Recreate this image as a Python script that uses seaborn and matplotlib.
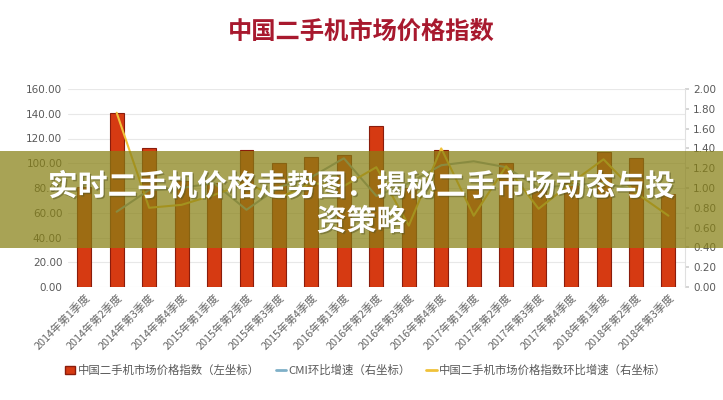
import numpy as np
import pandas as pd
import matplotlib
matplotlib.use("Agg")
import matplotlib.pyplot as plt
import matplotlib.patheffects as pe
from matplotlib.patches import Patch, Rectangle
from matplotlib.lines import Line2D
import seaborn as sns

categories = ["2014年第1季度", "2014年第2季度", "2014年第3季度", "2014年第4季度",
              "2015年第1季度", "2015年第2季度", "2015年第3季度", "2015年第4季度",
              "2016年第1季度", "2016年第2季度", "2016年第3季度", "2016年第4季度",
              "2017年第1季度", "2017年第2季度", "2017年第3季度", "2017年第4季度",
              "2018年第1季度", "2018年第2季度", "2018年第3季度"]
price_index = [81, 141, 112, 86, 84, 111, 100, 105, 107, 130, 80, 111, 80, 100, 80, 84, 109, 104, 75]
cmi_growth = [np.nan, 0.76, 0.98, 1.00, 1.05, 0.78, 1.01, 1.11, 1.30, 0.92, 1.05, 1.23, 1.27, 1.21, 1.00, 1.03, 1.05, 0.98, np.nan]
price_growth = [np.nan, 1.76, 0.80, 0.83, 0.93, 1.05, 0.90, 1.05, 1.02, 1.21, 0.62, 1.40, 0.72, 1.22, 0.79, 1.05, 1.29, 0.95, 0.72]
left_ticks = [0, 20, 40, 60, 80, 100, 120, 140, 160]
right_ticks = [0.0, 0.2, 0.4, 0.6, 0.8, 1.0, 1.2, 1.4, 1.6, 1.8, 2.0]

title = "中国二手机市场价格指数"
legend_labels = ["中国二手机市场价格指数（左坐标）", "CMI环比增速（右坐标）", "中国二手机市场价格指数环比增速（右坐标）"]
banner_text = "实时二手机价格走势图：揭秘二手市场动态与投\n资策略"

sns.set_theme(style="white")
plt.rcParams['font.family'] = ['Noto Sans CJK SC', 'DejaVu Sans']
plt.rcParams['axes.unicode_minus'] = False

BAR = "#d63a12"
BAR_EDGE = "#8a1c0c"
GRAY = "#8faab4"
YELLOW = "#f0c23a"
TXT = "#595959"

df = pd.DataFrame({"cat": categories, "idx": price_index,
                   "cmi": cmi_growth, "pg": price_growth,
                   "pos": np.arange(len(categories))})

fig = plt.figure(figsize=(7.23, 4.0), dpi=100)
ax = fig.add_axes([0.094, 0.2825, 0.853, 0.495])
sns.barplot(data=df, x="cat", y="idx", ax=ax, color=BAR, width=0.43,
            edgecolor=BAR_EDGE, linewidth=0.8, saturation=1)
ax.set_ylim(0, 160)
ax.set_yticks(left_ticks)
ax.set_yticklabels([f"{v:.2f}" for v in left_ticks], fontsize=7.5, color=TXT,
                   family=['DejaVu Sans'])
ax.set_xlim(-0.5, len(categories) - 0.5)
ax.set_xlabel("")
ax.set_ylabel("")
ax.set_xticks(np.arange(len(categories)))
ax.set_xticklabels(categories, rotation=45, ha="right", rotation_mode="anchor",
                   fontsize=7.8, color="#666666")
ax.grid(axis="y", color="#e8e8e8", linewidth=0.8)
ax.set_axisbelow(True)
for s in ["top", "left", "bottom", "right"]:
    ax.spines[s].set_visible(False)
ax.tick_params(axis="both", length=0, pad=4)

ax2 = ax.twinx()
sns.lineplot(data=df, x="pos", y="cmi", ax=ax2, color=GRAY, linewidth=1.5)
sns.lineplot(data=df, x="pos", y="pg", ax=ax2, color=YELLOW, linewidth=1.5)
ax2.set_ylim(0, 2.0)
ax2.set_yticks(right_ticks)
ax2.set_yticklabels([f"{v:.2f}" for v in right_ticks], fontsize=7.5, color=TXT,
                    family=['DejaVu Sans'])
ax2.set_xlabel("")
ax2.set_ylabel("")
ax2.set_xlim(-0.5, len(categories) - 0.5)
for s in ["top", "left", "bottom"]:
    ax2.spines[s].set_visible(False)
ax2.spines["right"].set_color("#e0e0e0")
ax2.spines["right"].set_linewidth(0.8)
ax2.tick_params(axis="y", length=3, color="#d0d0d0", pad=3)
ax2.grid(False)

fig.text(0.5, 0.918, title, ha="center", va="center", fontsize=17.5,
         fontweight="bold", color="#a8192e")

handles = [Patch(facecolor=BAR, edgecolor=BAR_EDGE),
           Line2D([0], [0], color="#7fb0c8", linewidth=2),
           Line2D([0], [0], color=YELLOW, linewidth=2)]
fig.legend(handles, legend_labels, loc="center", bbox_to_anchor=(0.506, 0.075),
           ncol=3, frameon=False, fontsize=8.2, labelcolor=TXT,
           handlelength=0.9, handletextpad=0.2, columnspacing=1.4)

# overlay banner
fig.patches.append(Rectangle((0, 1 - 248 / 400), 1, 97 / 400, transform=fig.transFigure,
                             facecolor=(135 / 255, 128 / 255, 20 / 255), alpha=0.72,
                             edgecolor="none", zorder=10))
fig.text(0.5, 1 - 204 / 400, banner_text, ha="center", va="center", fontsize=21.5,
         fontweight="bold", color="white", linespacing=1.2, zorder=11,
         path_effects=[pe.withSimplePatchShadow(offset=(1, -1), shadow_rgbFace="#555522", alpha=0.5)])

fig.savefig("out.png", dpi=100)
